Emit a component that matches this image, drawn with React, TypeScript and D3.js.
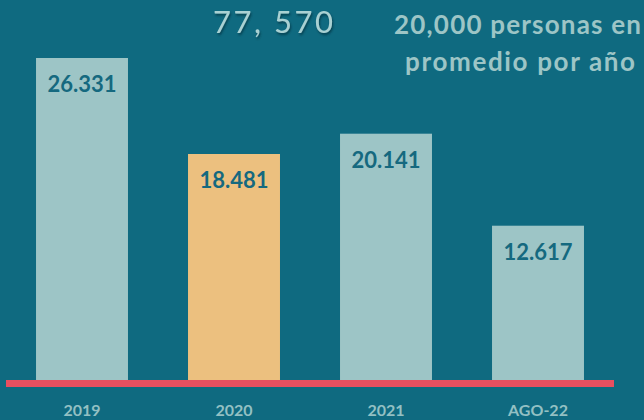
import React from "react";
import * as d3 from "d3";

const categories = ["2019", "2020", "2021", "AGO-22"];
const values = [26.331, 18.481, 20.141, 12.617];
const labels = ["26.331", "18.481", "20.141", "12.617"];
const highlight = ["2020"];
const total = "77, 570";
const note = ["20,000 personas en", "promedio por año"];

const W = 644;
const H = 420;
const bg = "#0f6a80";

export default function App() {
  const x = d3
    .scaleBand<string>()
    .domain(categories)
    .range([6, 614])
    .paddingInner(0.395)
    .paddingOuter(0.1975);

  const y = d3
    .scaleLinear()
    .domain([0, d3.max(values) as number])
    .range([380, 58]);

  const font = "Lato, 'Open Sans', sans-serif";

  return (
    <svg
      width={W}
      height={H}
      style={{ position: "absolute", left: 0, top: 0, display: "block" }}
    >
      <defs>
        <filter id="shadow" x="-10%" y="-20%" width="130%" height="160%">
          <feDropShadow dx="1" dy="2" stdDeviation="1.2" floodColor="#062f3a" floodOpacity="0.7" />
        </filter>
      </defs>
      <rect width={W} height={H} fill={bg} />

      {/* bars */}
      {categories.map((c, i) => (
        <g key={c}>
          <rect
            x={x(c)}
            y={y(values[i])}
            width={x.bandwidth()}
            height={y(0) - y(values[i])}
            fill={highlight.includes(c) ? "#ecc07f" : "#9dc5c6"}
          />
          <text
            x={(x(c) as number) + x.bandwidth() / 2}
            y={y(values[i]) + 34}
            textAnchor="middle"
            fontFamily={font}
            fontWeight={700}
            fontSize={22}
            fill="#15697f"
          >
            {labels[i]}
          </text>
          <text
            x={(x(c) as number) + x.bandwidth() / 2}
            y={416}
            textAnchor="middle"
            fontFamily={font}
            fontWeight={700}
            fontSize={16}
            fill="#93c0c3"
          >
            {c}
          </text>
        </g>
      ))}

      {/* baseline */}
      <rect x={x.range()[0]} y={y(0)} width={x.range()[1] - x.range()[0]} height={7} fill="#e84f60" />

      {/* headline */}
      <text
        x={213}
        y={33}
        fontFamily={font}
        fontWeight={400}
        fontSize={31}
        fill="#a9d1d3"
        textLength={120}
        lengthAdjust="spacing"
        filter="url(#shadow)"
      >
        {total}
      </text>
      {note.map((t, i) => (
        <text
          key={t}
          x={i === 0 ? 394 : 405}
          y={34 + i * 37}
          fontFamily={font}
          fontWeight={700}
          fontSize={26}
          fill="#9dc5c6"
          textLength={i === 0 ? 247 : 230}
          lengthAdjust="spacing"
        >
          {t}
        </text>
      ))}
    </svg>
  );
}
